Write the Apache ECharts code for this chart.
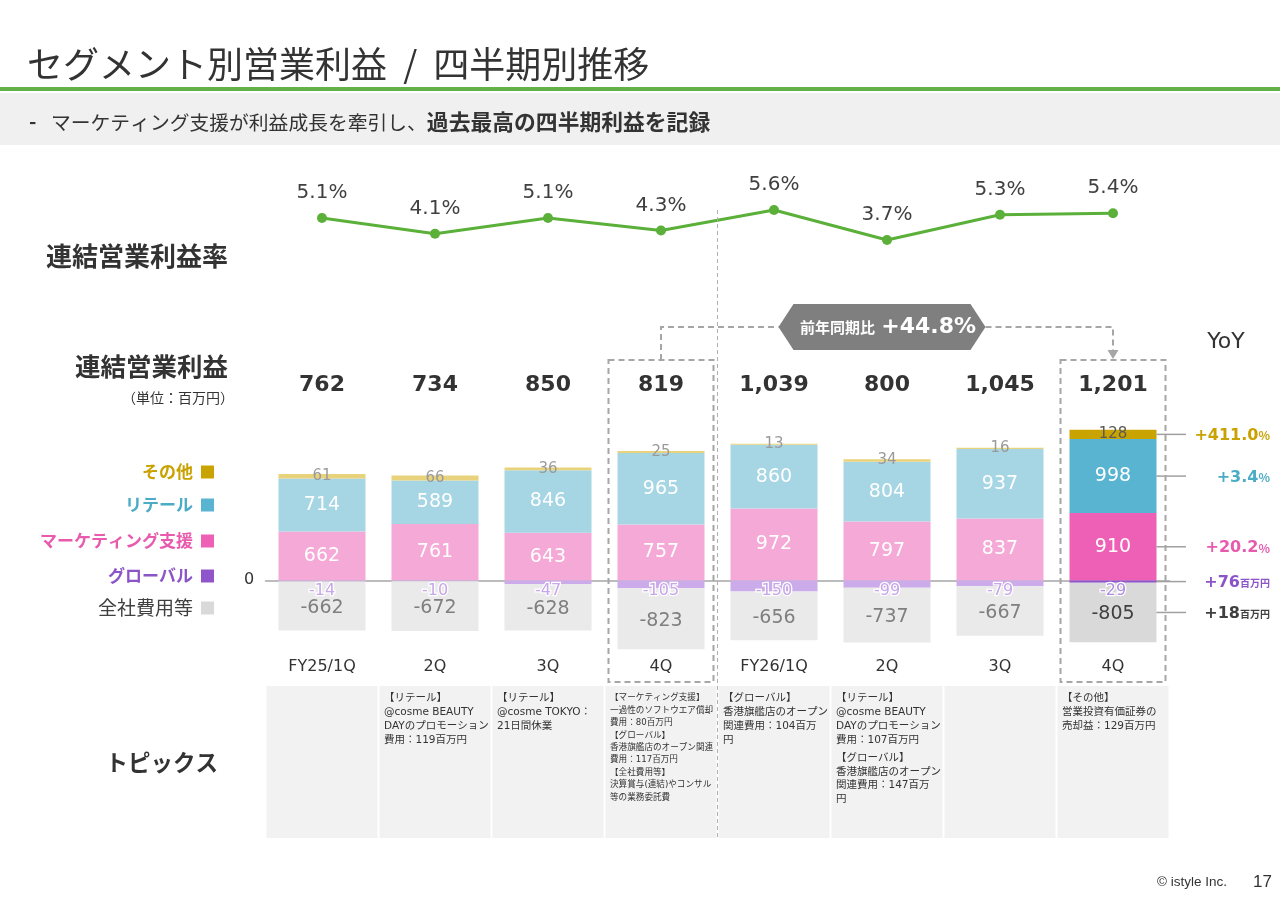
<!DOCTYPE html>
<html>
<head>
<meta charset="utf-8">
<script src="https://cdn.jsdelivr.net/npm/echarts@6/dist/echarts.min.js"></script>
<style>
html,body{margin:0;padding:0;background:#fff;}
#c{width:1280px;height:904px;}
</style>
</head>
<body>
<div id="c"></div>
<script>
// ---------------- data ----------------
const categories = ['FY25/1Q', '2Q', '3Q', '4Q', 'FY26/1Q', '2Q', '3Q', '4Q'];
const marginRate = [5.1, 4.1, 5.1, 4.3, 5.6, 3.7, 5.3, 5.4];
const totalProfit = [762, 734, 850, 819, 1039, 800, 1045, 1201];
const otherProfit = [61, 66, 36, 25, 13, 34, 16, 128];
const retailProfit = [714, 589, 846, 965, 860, 804, 937, 998];
const marketingProfit = [662, 761, 643, 757, 972, 797, 837, 910];
const globalProfit = [-14, -10, -47, -105, -150, -99, -79, -29];
const corporateCost = [-662, -672, -628, -823, -656, -737, -667, -805];
const segmentNames = ['その他', 'リテール', 'マーケティング支援', 'グローバル', '全社費用等'];
const yoyValues = ['+411.0', '+3.4', '+20.2', '+76', '+18'];
const yoyUnits = ['%', '%', '%', '百万円', '百万円'];
const badgeLabel = '前年同期比';
const badgeValue = '+44.8%';
const topics = [
  [],
  [['【リテール】', '@cosme BEAUTY', 'DAYのプロモーション', '費用：119百万円']],
  [['【リテール】', '@cosme TOKYO：', '21日間休業']],
  [['【マーケティング支援】', '一過性のソフトウエア償却', '費用：80百万円'],
   ['【グローバル】', '香港旗艦店のオープン関連', '費用：117百万円'],
   ['【全社費用等】', '決算賞与(連結)やコンサル', '等の業務委託費']],
  [['【グローバル】', '香港旗艦店のオープン', '関連費用：104百万', '円']],
  [['【リテール】', '@cosme BEAUTY', 'DAYのプロモーション', '費用：107百万円'],
   ['【グローバル】', '香港旗艦店のオープン', '関連費用：147百万', '円']],
  [],
  [['【その他】', '営業投資有価証券の', '売却益：129百万円']]
];

// ---------------- style ----------------
const NUM_FONT = '"DejaVu Sans", "Noto Sans CJK JP", sans-serif';
const JP_FONT = '"Noto Sans CJK JP", "DejaVu Sans", sans-serif';
const HL = categories.length - 1;
const faded = { other: '#E9D27C', retail: '#A6D5E4', marketing: '#F5A9D6', global: '#CBABE9', corporate: '#EAEAEA' };
const strong = { other: '#C9A400', retail: '#58B4D0', marketing: '#EE60B6', global: '#9055CB', corporate: '#D9D9D9' };
const legendText = ['#C9A200', '#4BACC6', '#E85AAE', '#8B55C8', '#404040'];
const legendSquare = [strong.other, strong.retail, strong.marketing, strong.global, strong.corporate];
const legendBold = [true, true, true, true, false];

function barSeries(name, values, key, labelFn) {
  return {
    name: name, type: 'bar', stack: 'total', xAxisIndex: 1, yAxisIndex: 1, barWidth: 87,
    silent: true, emphasis: { disabled: true },
    data: values.map((v, i) => ({
      value: v,
      itemStyle: { color: i === HL ? strong[key] : faded[key] },
      label: labelFn(i)
    }))
  };
}

const chart = echarts.init(document.getElementById('c'), null, { renderer: 'canvas' });

const option = {
  animation: false,
  backgroundColor: '#ffffff',
  grid: [
    { left: 265.5, right: 110.5, top: 203.7, height: 47.4 },
    { left: 265.5, right: 110.5, top: 395.25, height: 259.35 }
  ],
  xAxis: [
    { type: 'category', gridIndex: 0, data: categories, show: false },
    { type: 'category', gridIndex: 1, data: categories,
      axisLine: { show: true, onZero: true, lineStyle: { color: '#A6A6A6', width: 1.5 } },
      axisTick: { show: false }, axisLabel: { show: false } },
    { type: 'category', gridIndex: 1, data: categories, position: 'bottom',
      axisLine: { show: false, onZero: false }, axisTick: { show: false },
      axisLabel: { show: true, margin: 4, fontSize: 16, color: '#333', fontFamily: NUM_FONT } }
  ],
  yAxis: [
    { type: 'value', gridIndex: 0, min: 3, max: 6, show: false },
    { type: 'value', gridIndex: 1, min: -1000, max: 2500, show: false }
  ],
  series: [
    {
      name: '連結営業利益率', type: 'line', xAxisIndex: 0, yAxisIndex: 0,
      data: marginRate, symbol: 'circle', symbolSize: 10, silent: true,
      itemStyle: { color: '#5BB03A' }, lineStyle: { color: '#5BB03A', width: 3 },
      label: { show: true, position: 'top', distance: 10, formatter: '{c}%',
        fontSize: 20, color: '#404040', fontFamily: NUM_FONT },
      emphasis: { disabled: true }
    },
    barSeries(segmentNames[2], marketingProfit, 'marketing', i => ({
      show: true, position: 'inside', color: '#fff', fontSize: 19, fontFamily: NUM_FONT })),
    barSeries(segmentNames[1], retailProfit, 'retail', i => ({
      show: true, position: 'inside', color: '#fff', fontSize: 19, fontFamily: NUM_FONT })),
    barSeries(segmentNames[0], otherProfit, 'other', i => ({
      show: true, position: 'inside', color: i === HL ? '#595959' : '#9A9A9A', fontSize: 15, fontFamily: NUM_FONT })),
    barSeries(segmentNames[3], globalProfit, 'global', i => ({
      show: true, position: 'insideTop', distance: 2, color: i === HL ? '#B08BE3' : '#C7A6EA',
      textBorderColor: '#fff', textBorderWidth: 2.5, fontSize: 16, fontFamily: NUM_FONT })),
    barSeries(segmentNames[4], corporateCost, 'corporate', i => ({
      show: true, position: 'inside', offset: [0, 2], color: i === HL ? '#404040' : '#7F7F7F', fontSize: 19, fontFamily: NUM_FONT }))
  ]
};
chart.setOption(option);

// ---------------- overlays ----------------
const px = i => chart.convertToPixel({ xAxisIndex: 1 }, i);
const py = v => chart.convertToPixel({ yAxisIndex: 1 }, v);
const step = px(1) - px(0);
const halfBar = 87 / 2;

function txt(text, x, y, o) {
  o = o || {};
  return {
    type: 'text', silent: true, z: o.z || 10,
    style: {
      text: text, x: x, y: y,
      fill: o.fill || '#333', fontSize: o.fontSize || 14, fontWeight: o.fontWeight || 'normal',
      fontFamily: o.fontFamily || JP_FONT,
      align: o.align || 'left', textAlign: o.align || 'left',
      verticalAlign: o.va || 'middle', textVerticalAlign: o.va || 'middle',
      lineHeight: o.lineHeight, rich: o.rich
    }
  };
}

const g = [];
// header
g.push(txt('セグメント別営業利益  /  四半期別推移', 27, 64, { fontSize: 36, fill: '#333' }));
g.push({ type: 'rect', silent: true, shape: { x: 0, y: 87, width: 1280, height: 4 }, style: { fill: '#62B146' } });
g.push({ type: 'rect', silent: true, shape: { x: 0, y: 93, width: 1280, height: 52 }, style: { fill: '#F0F0F0' } });
g.push(txt('-', 29, 121, { fontSize: 20, fontWeight: 'bold', fill: '#333' }));
g.push(txt('{a|マーケティング支援が利益成長を牽引し、}{b|過去最高の四半期利益を記録}', 51, 122, {
  rich: {
    a: { fontSize: 19.8, fontFamily: JP_FONT, fill: '#333', color: '#333' },
    b: { fontSize: 21.8, fontWeight: 'bold', fontFamily: JP_FONT, fill: '#333', color: '#333' }
  }
}));

// left labels
g.push(txt('連結営業利益率', 228, 256, { align: 'right', fontSize: 26, fontWeight: 'bold' }));
g.push(txt('連結営業利益', 228, 366, { align: 'right', fontSize: 25.5, fontWeight: 'bold' }));
g.push(txt('（単位：百万円）', 234, 398, { align: 'right', fontSize: 14 }));
const legendY = [472, 505, 541, 576, 608];
segmentNames.forEach((n, k) => {
  g.push(txt(n, 193, legendY[k], { align: 'right', fontSize: legendBold[k] ? 17 : 19,
    fontWeight: legendBold[k] ? 'bold' : 'normal', fill: legendText[k] }));
  g.push({ type: 'rect', silent: true, shape: { x: 201, y: legendY[k] - 6.5, width: 13, height: 13 },
    style: { fill: legendSquare[k] } });
});
g.push(txt('0', 249, py(0) - 1, { align: 'center', fontSize: 16, fontFamily: NUM_FONT }));
g.push(txt('トピックス', 218, 762, { align: 'right', fontSize: 22.5, fontWeight: 'bold' }));

// totals
totalProfit.forEach((v, i) => {
  g.push(txt(v.toLocaleString('en-US'), px(i), 385, { align: 'center', fontSize: 22, fontWeight: 'bold',
    fontFamily: NUM_FONT, fill: '#333' }));
});

// separator between fiscal years
const sepX = (px(3) + px(4)) / 2;
g.push({ type: 'line', silent: true, z: 5, shape: { x1: sepX, y1: 210, x2: sepX, y2: 840 },
  style: { stroke: '#B0B0B0', lineWidth: 1, lineDash: [4, 3] } });

// dashed boxes + connector + badge
const dashStyle = { stroke: '#A6A6A6', lineWidth: 2, lineDash: [6, 4], fill: null };
const boxTop = 360, boxBottom = 682;
[3, HL].forEach(i => {
  g.push({ type: 'rect', silent: true, z: 4, shape: { x: px(i) - 52.5, y: boxTop, width: 105, height: boxBottom - boxTop },
    style: Object.assign({}, dashStyle) });
});
const x3 = px(3), x7 = px(HL);
const bcx = (x3 + x7) / 2 - 5, bcy = 327, bhw = 103.5, bhh = 23, bin = 15;
g.push({ type: 'polyline', silent: true, z: 4, shape: { points: [[x3, boxTop], [x3, bcy], [bcx - bhw, bcy]] }, style: Object.assign({}, dashStyle) });
g.push({ type: 'polyline', silent: true, z: 4, shape: { points: [[bcx + bhw, bcy], [x7, bcy], [x7, boxTop - 9]] }, style: Object.assign({}, dashStyle) });
g.push({ type: 'polygon', silent: true, z: 4, shape: { points: [[x7 - 5.5, boxTop - 10], [x7 + 5.5, boxTop - 10], [x7, boxTop - 1]] }, style: { fill: '#A6A6A6' } });
g.push({ type: 'polygon', silent: true, z: 6, shape: { points: [
  [bcx - bhw, bcy], [bcx - bhw + bin, bcy - bhh], [bcx + bhw - bin, bcy - bhh],
  [bcx + bhw, bcy], [bcx + bhw - bin, bcy + bhh], [bcx - bhw + bin, bcy + bhh]] },
  style: { fill: '#7F7F7F' } });
g.push(txt('{a|' + badgeLabel + '}  {b|' + badgeValue + '}', bcx + 6, bcy, { align: 'center', z: 7,
  rich: {
    a: { fontSize: 15, fontWeight: 'bold', fontFamily: JP_FONT, fill: '#fff', color: '#fff' },
    b: { fontSize: 22, fontWeight: 'bold', fontFamily: NUM_FONT, fill: '#fff', color: '#fff' }
  } }));

// YoY
g.push(txt('YoY', 1226, 342, { align: 'center', fontSize: 22, fontFamily: NUM_FONT, fill: '#333' }));
const m = marketingProfit[HL], r = retailProfit[HL], o = otherProfit[HL], gl = globalProfit[HL], c = corporateCost[HL];
const yoyCenters = [m + r + o / 2, m + r / 2, m / 2, gl / 2, gl + c / 2];
yoyCenters.forEach((v, k) => {
  const y = py(v);
  g.push({ type: 'line', silent: true, z: 3, shape: { x1: x7 + halfBar, y1: y, x2: 1186, y2: y },
    style: { stroke: '#A0A0A0', lineWidth: 1.5 } });
  g.push(txt('{v|' + yoyValues[k] + '}{u|' + yoyUnits[k] + '}', 1270, y + 1.5, { align: 'right',
    rich: {
      v: { fontSize: 16, fontWeight: 'bold', fontFamily: NUM_FONT, fill: legendText[k], color: legendText[k] },
      u: { fontSize: yoyUnits[k] === '%' ? 12 : 10, fontWeight: 'bold', fontFamily: JP_FONT, fill: legendText[k], color: legendText[k] }
    } }));
});

// topics
topics.forEach((groups, i) => {
  const left = px(i) - step / 2;
  g.push({ type: 'rect', silent: true, z: 1, shape: { x: left + 1, y: 686, width: step - 2, height: 152 }, style: { fill: '#F2F2F2' } });
  const nLines = groups.reduce((s, gr) => s + gr.length, 0);
  const dense = nLines > 8;
  const fs = dense ? 8.6 : 10.5, lh = dense ? 12.4 : 13.8, gap = dense ? 0 : 4.5;
  let y = dense ? 692 : 691.5;
  groups.forEach(gr => {
    g.push(txt(gr.join('\n'), left + 5.5, y, { va: 'top', fontSize: fs, lineHeight: lh,
      fontFamily: NUM_FONT, fill: '#333' }));
    y += gr.length * lh + gap;
  });
});

// footer
g.push(txt('© istyle Inc.', 1157, 882, { fontSize: 13.5, fontFamily: '"Liberation Sans", sans-serif', fill: '#333' }));
g.push(txt('17', 1253, 882, { fontSize: 17, fontFamily: '"Liberation Sans", sans-serif', fill: '#333' }));

chart.setOption({ graphic: { elements: g } });
</script>
</body>
</html>
